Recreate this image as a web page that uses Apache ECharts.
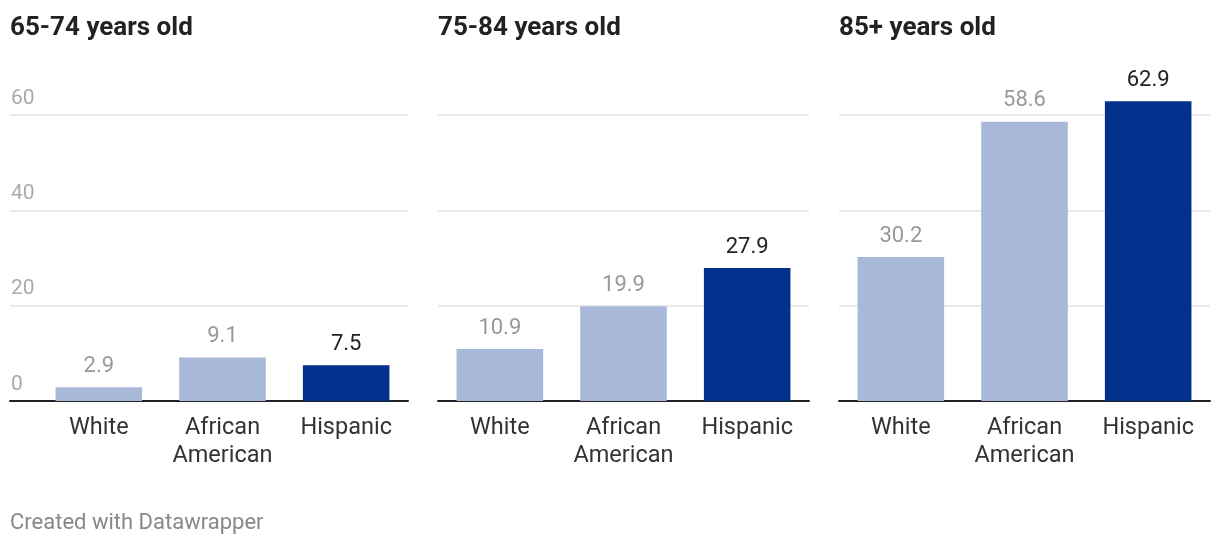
<!DOCTYPE html>
<html>
<head>
<meta charset="utf-8">
<script src="https://cdn.jsdelivr.net/npm/echarts@6/dist/echarts.min.js"></script>
<style>
html,body{margin:0;padding:0;background:#fff;}
#chart{width:1220px;height:548px;}
</style>
</head>
<body>
<div id="chart"></div>
<script>
var panelTitles = ['65-74 years old', '75-84 years old', '85+ years old'];
var categories = ['White', 'African\nAmerican', 'Hispanic'];
var values65 = [2.9, 9.1, 7.5];
var values75 = [10.9, 19.9, 27.9];
var values85 = [30.2, 58.6, 62.9];
var yTicks = [0, 20, 40, 60];
var footer = 'Created with Datawrapper';

var allValues = [values65, values75, values85];
var FONT = 'Roboto, "Noto Sans", sans-serif';
var LIGHT = '#a8b8d8';
var DARK = '#01318c';

var panels = [
  {gl: 10, gr: 408, bl: 37},
  {gl: 438, gr: 809, bl: 438},
  {gl: 839, gr: 1210, bl: 839}
];
var TOP = 115, BOTTOM = 147, W = 1220;

var grids = [], xAxes = [], yAxes = [], series = [], titles = [];
panels.forEach(function (p, i) {
  var gIdx = grids.length;
  grids.push({left: p.gl, right: W - p.gr, top: TOP, bottom: BOTTOM});
  grids.push({left: p.bl, right: W - p.gr, top: TOP, bottom: BOTTOM});

  xAxes.push({
    gridIndex: gIdx, type: 'value', min: 0, max: 1,
    axisLine: {show: true, onZero: false, lineStyle: {color: '#222', width: 2}},
    axisTick: {show: false}, axisLabel: {show: false}, splitLine: {show: false}
  });
  yAxes.push({
    gridIndex: gIdx, type: 'value', min: yTicks[0], max: yTicks[yTicks.length - 1],
    interval: yTicks[1] - yTicks[0],
    axisLine: {show: false}, axisTick: {show: false},
    splitLine: {show: true, lineStyle: {color: '#e3e3e3', width: 1.5}},
    axisLabel: {
      show: i === 0, inside: true, margin: 1,
      verticalAlign: 'bottom', padding: [0, 0, 6, 0],
      color: '#aaa', fontSize: 21, fontFamily: FONT
    }
  });

  xAxes.push({
    gridIndex: gIdx + 1, type: 'category', data: categories,
    axisLine: {show: false}, axisTick: {show: false}, splitLine: {show: false},
    axisLabel: {color: '#333', fontSize: 23.5, fontFamily: FONT, margin: 13, lineHeight: 28, interval: 0}
  });
  yAxes.push({
    gridIndex: gIdx + 1, type: 'value', min: yTicks[0], max: yTicks[yTicks.length - 1],
    show: false, splitLine: {show: false}
  });

  series.push({
    type: 'bar', xAxisIndex: i * 2 + 1, yAxisIndex: i * 2 + 1,
    barCategoryGap: '30%', clip: false,
    data: allValues[i].map(function (v, k) {
      var dark = k === 2;
      return {
        value: v,
        itemStyle: {color: dark ? DARK : LIGHT},
        label: {color: dark ? '#222' : '#999'}
      };
    }),
    label: {
      show: true, position: 'top', distance: 10,
      fontSize: 22, fontFamily: FONT,
      formatter: function (d) { return d.value.toFixed(1); }
    },
    silent: true, animation: false
  });

  titles.push({
    text: panelTitles[i], left: p.gl - 5, top: 10,
    textStyle: {fontSize: 26, fontWeight: 'bold', color: '#222', fontFamily: FONT}
  });
});

titles.push({
  text: footer, left: 5, top: 507,
  textStyle: {fontSize: 22, fontWeight: 'normal', color: '#888', fontFamily: FONT}
});

var chart = echarts.init(document.getElementById('chart'), null, {renderer: 'canvas'});
chart.setOption({
  animation: false,
  backgroundColor: '#fff',
  title: titles,
  grid: grids,
  xAxis: xAxes,
  yAxis: yAxes,
  series: series
});
</script>
</body>
</html>
